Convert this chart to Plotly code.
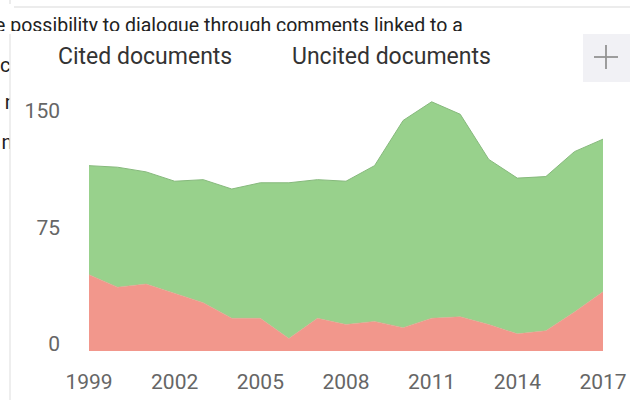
import plotly.graph_objects as go

years = list(range(1999, 2018))
cited = [49, 41, 43, 37, 31, 21, 21, 8, 21, 17, 19, 15, 21, 22, 17, 11, 13, 25, 38]
total = [119, 118, 115, 109, 110, 104, 108, 108, 110, 109, 119, 148, 160, 152, 123, 111, 112, 128, 136]
uncited = [t - c for t, c in zip(total, cited)]
series_names = ["Cited documents", "Uncited documents"]
y_ticks = [0, 75, 150]
x_ticks = [1999, 2002, 2005, 2008, 2011, 2014, 2017]
page_text = "e possibility to dialogue through comments linked to a"

W, H = 630, 400
L, R, T, B = 89, 603, 94, 351


def fx(x):
    return x / W


def fy(y):
    return 1 - y / H


font_fam = "Roboto, Arial, sans-serif"

fig = go.Figure()
fig.add_trace(go.Scatter(x=years, y=cited, name=series_names[0], stackgroup="one",
                         mode="lines", line=dict(color="#ef968b", width=0.5),
                         fillcolor="#f2978c", xaxis="x", yaxis="y"))
fig.add_trace(go.Scatter(x=years, y=uncited, name=series_names[1], stackgroup="one",
                         mode="lines", line=dict(color="#86b97c", width=1),
                         fillcolor="#98d18c", xaxis="x", yaxis="y"))

# background page text, clipped by the chart panel
fig.add_trace(go.Scatter(x=[-13], y=[27], mode="text", text=[page_text], textposition="middle right",
                         textfont=dict(size=19.5, color="#222222", family=font_fam),
                         cliponaxis=True, hoverinfo="skip", xaxis="x2", yaxis="y2"))
fig.add_trace(go.Scatter(x=[10.5, 11.5, 12.5], y=[67, 104, 144], mode="text", text=["c", "r", "n"],
                         textposition="middle left",
                         textfont=dict(size=20, color="#222222", family=font_fam),
                         cliponaxis=True, hoverinfo="skip", xaxis="x3", yaxis="y3"))

fig.update_layout(
    width=W, height=H,
    margin=dict(l=0, r=0, t=0, b=0),
    paper_bgcolor="white", plot_bgcolor="rgba(0,0,0,0)",
    showlegend=False,
    font=dict(family=font_fam),
    xaxis=dict(domain=[fx(L), fx(R)], range=[1999, 2017], tickvals=x_ticks, showgrid=False,
               zeroline=False, showline=False, ticks="", automargin=False,
               tickfont=dict(size=21, color="#666666"), ticklabelstandoff=16),
    yaxis=dict(domain=[fy(B), fy(T)], range=[0, 165], tickvals=y_ticks, showgrid=False,
               zeroline=False, showline=False, ticks="", automargin=False,
               tickfont=dict(size=21, color="#666666"), ticklabelstandoff=28, ticklabelshift=-7),
    xaxis2=dict(domain=[0, 1], range=[-8, 630], visible=False, anchor="y2", fixedrange=True),
    yaxis2=dict(domain=[fy(31), 1], range=[31, 0], visible=False, anchor="x2", fixedrange=True),
    xaxis3=dict(domain=[0, fx(10)], range=[0, 10], visible=False, anchor="y3", fixedrange=True),
    yaxis3=dict(domain=[0, fy(31)], range=[400, 31], visible=False, anchor="x3", fixedrange=True),
)

shapes = []
# panel left border
shapes.append(dict(type="line", xref="paper", yref="paper", x0=fx(10), x1=fx(10),
                   y0=fy(34), y1=fy(400), line=dict(color="#e8e8e8", width=1.5)))
# top box border
shapes.append(dict(type="line", xref="paper", yref="paper", x0=fx(14), x1=fx(630),
                   y0=fy(7), y1=fy(7), line=dict(color="#e6e6e6", width=1.5)))
shapes.append(dict(type="line", xref="paper", yref="paper", x0=fx(10), x1=fx(10),
                   y0=fy(0), y1=fy(4), line=dict(color="#e6e6e6", width=1.5)))
# plus button
shapes.append(dict(type="rect", xref="paper", yref="paper", x0=fx(583), x1=fx(630),
                   y0=fy(82), y1=fy(34), fillcolor="#f1f1f5", line=dict(width=0), layer="below"))
shapes.append(dict(type="line", xref="paper", yref="paper", x0=fx(594), x1=fx(618),
                   y0=fy(57), y1=fy(57), line=dict(color="#939393", width=1.8)))
shapes.append(dict(type="line", xref="paper", yref="paper", x0=fx(606), x1=fx(606),
                   y0=fy(45), y1=fy(69), line=dict(color="#939393", width=1.8)))
fig.update_layout(shapes=shapes)

ann = []
ann.append(dict(text=series_names[0], xref="paper", yref="paper", x=fx(145), y=fy(57),
                xanchor="center", yanchor="middle", showarrow=False,
                font=dict(size=23, color="#333333", family=font_fam)))
ann.append(dict(text=series_names[1], xref="paper", yref="paper", x=fx(391), y=fy(57),
                xanchor="center", yanchor="middle", showarrow=False,
                font=dict(size=23, color="#333333", family=font_fam)))
fig.update_layout(annotations=ann)

fig.write_html("out.html", config={"displayModeBar": False},
               post_script="document.body.style.margin='0';document.body.style.overflow='hidden';")
